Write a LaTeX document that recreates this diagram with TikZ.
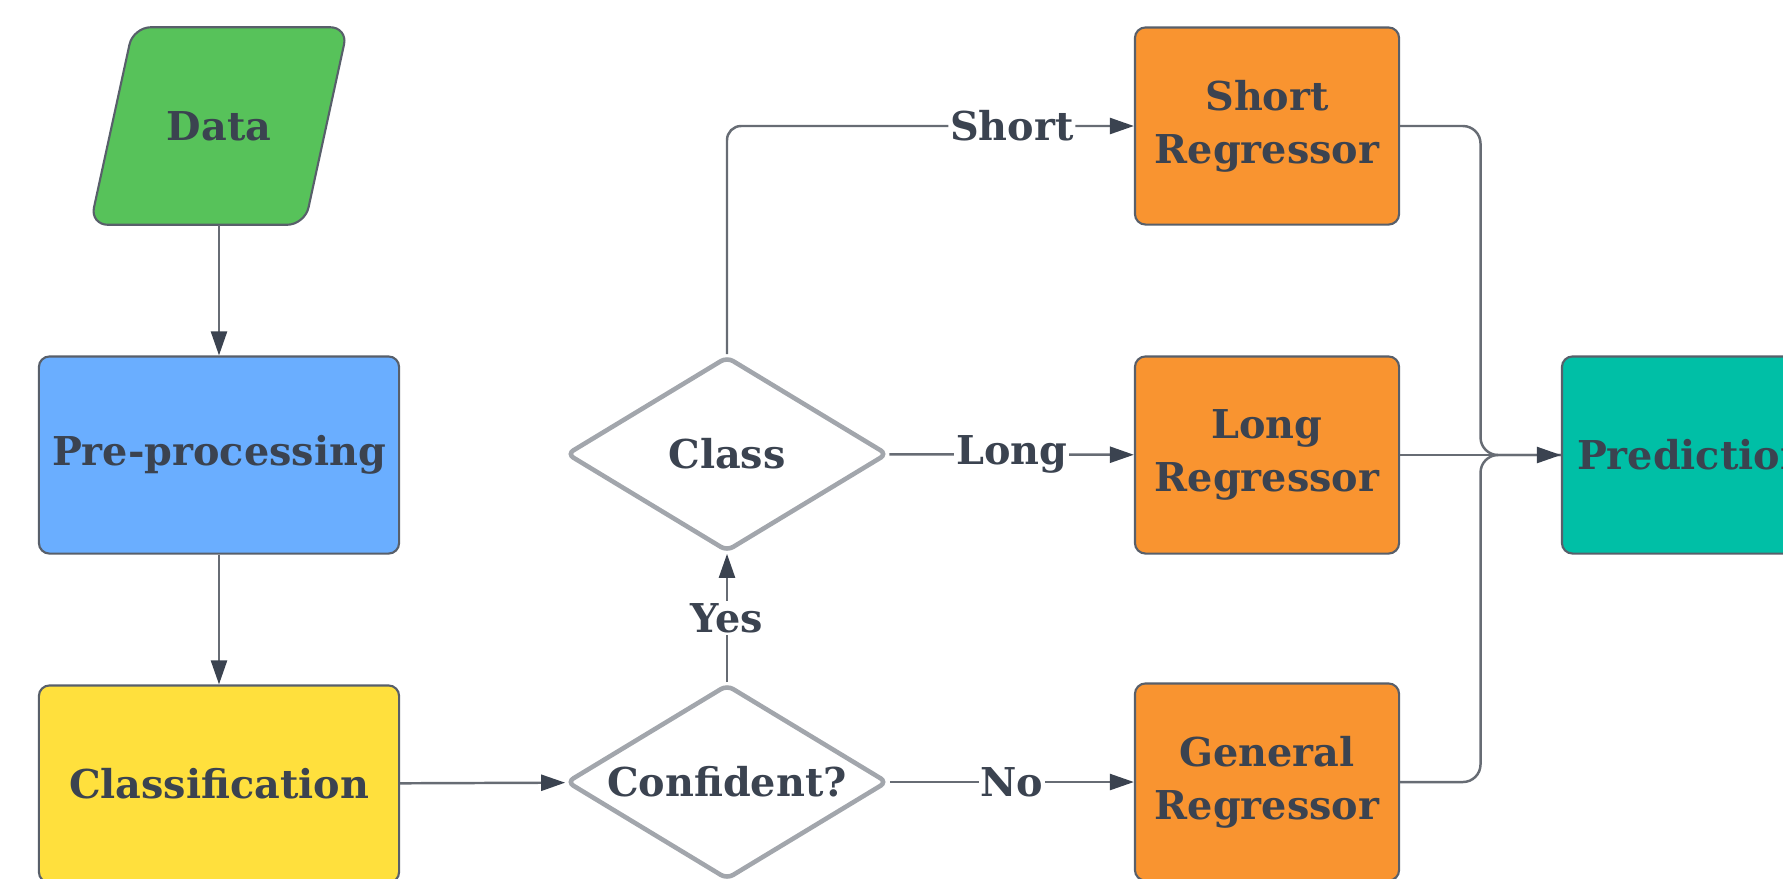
\documentclass[tikz,border=0pt]{standalone}
\usepackage{fontspec}
\setmainfont{DejaVu Serif}
\usetikzlibrary{shapes.geometric,arrows.meta,calc}

\definecolor{ink}{HTML}{3B4350}
\definecolor{wire}{HTML}{676C74}
\definecolor{rim}{HTML}{A2A6AC}
\definecolor{datagreen}{HTML}{57C25A}
\definecolor{prepblue}{HTML}{6AAEFF}
\definecolor{clsyellow}{HTML}{FFE03D}
\definecolor{regorange}{HTML}{F99430}
\definecolor{predteal}{HTML}{00BFA6}

\begin{document}
\begin{tikzpicture}[x=0.01cm,y=-0.01cm,
    txt/.style={text=ink,font=\bfseries\fontsize{11.3}{15}\selectfont,align=center},
    box/.style={txt,draw=ink!85,line width=0.6pt,rounded corners=3pt,
                minimum width=3.6cm,minimum height=1.97cm},
    regbox/.style={box,fill=regorange,minimum width=2.64cm},
    decide/.style={txt,shape=diamond,aspect=1.65,draw=rim,line width=1.3pt,rounded corners=2pt,
                   inner sep=0pt,minimum width=3.21cm,minimum height=1.95cm},
    conn/.style={draw=wire,line width=0.7pt,-{Triangle[length=0.24cm,width=0.16cm,color=ink]}},
    lbl/.style={txt,fill=white,inner sep=0.5pt}]
    \useasboundingbox (0,0) rectangle (1783,878);
    \clip (0,0) rectangle (1783,878);

    \node[txt,minimum width=2.56cm,minimum height=1.96cm] (data) at (219,126) {};
    \draw[draw=ink!85,line width=0.6pt,rounded corners=5pt,fill=datagreen]
        ([xshift=0.43cm]data.north west) -- (data.north east)
        -- ([xshift=-0.43cm]data.south east) -- (data.south west) -- cycle;
    \node[txt] at (data) {Data};
    \node[box,fill=prepblue] (prep) at (219,455) {Pre-processing};
    \node[box,fill=clsyellow] (classif) at (219,784) {Classification};

    \node[decide] (conf) at (727,782) {Confident?};
    \node[decide] (klass) at (727,454) {Class};

    \node[regbox] (shortreg) at (1267,126) {Short\\Regressor};
    \node[regbox] (longreg) at (1267,455) {Long\\Regressor};
    \node[regbox] (genreg) at (1267,782) {General\\Regressor};
    \node[box,fill=predteal,minimum width=2.62cm] (pred) at (1693,455) {Prediction};

    \draw[conn] (data) -- (prep);
    \draw[conn] (prep) -- (classif);
    \draw[conn] (classif) -- (conf);
    \draw[conn] (conf) -- node[lbl] {Yes} (klass);
    \draw[conn,rounded corners=4pt] (klass.north) |- node[lbl,pos=0.85] {Short} (shortreg.west);
    \draw[conn] (klass) -- node[lbl] {Long} (longreg);
    \draw[conn] (conf) -- node[lbl] {No} (genreg);

    \coordinate (join) at ($(longreg.east)!0.5!(pred.west)$);
    \draw[draw=wire,line width=0.7pt,rounded corners=5pt] (shortreg.east) -| (join) -- (pred.west);
    \draw[draw=wire,line width=0.7pt,rounded corners=5pt] (genreg.east) -| (join) -- (pred.west);
    \draw[conn] (longreg) -- (pred);
\end{tikzpicture}
\end{document}
